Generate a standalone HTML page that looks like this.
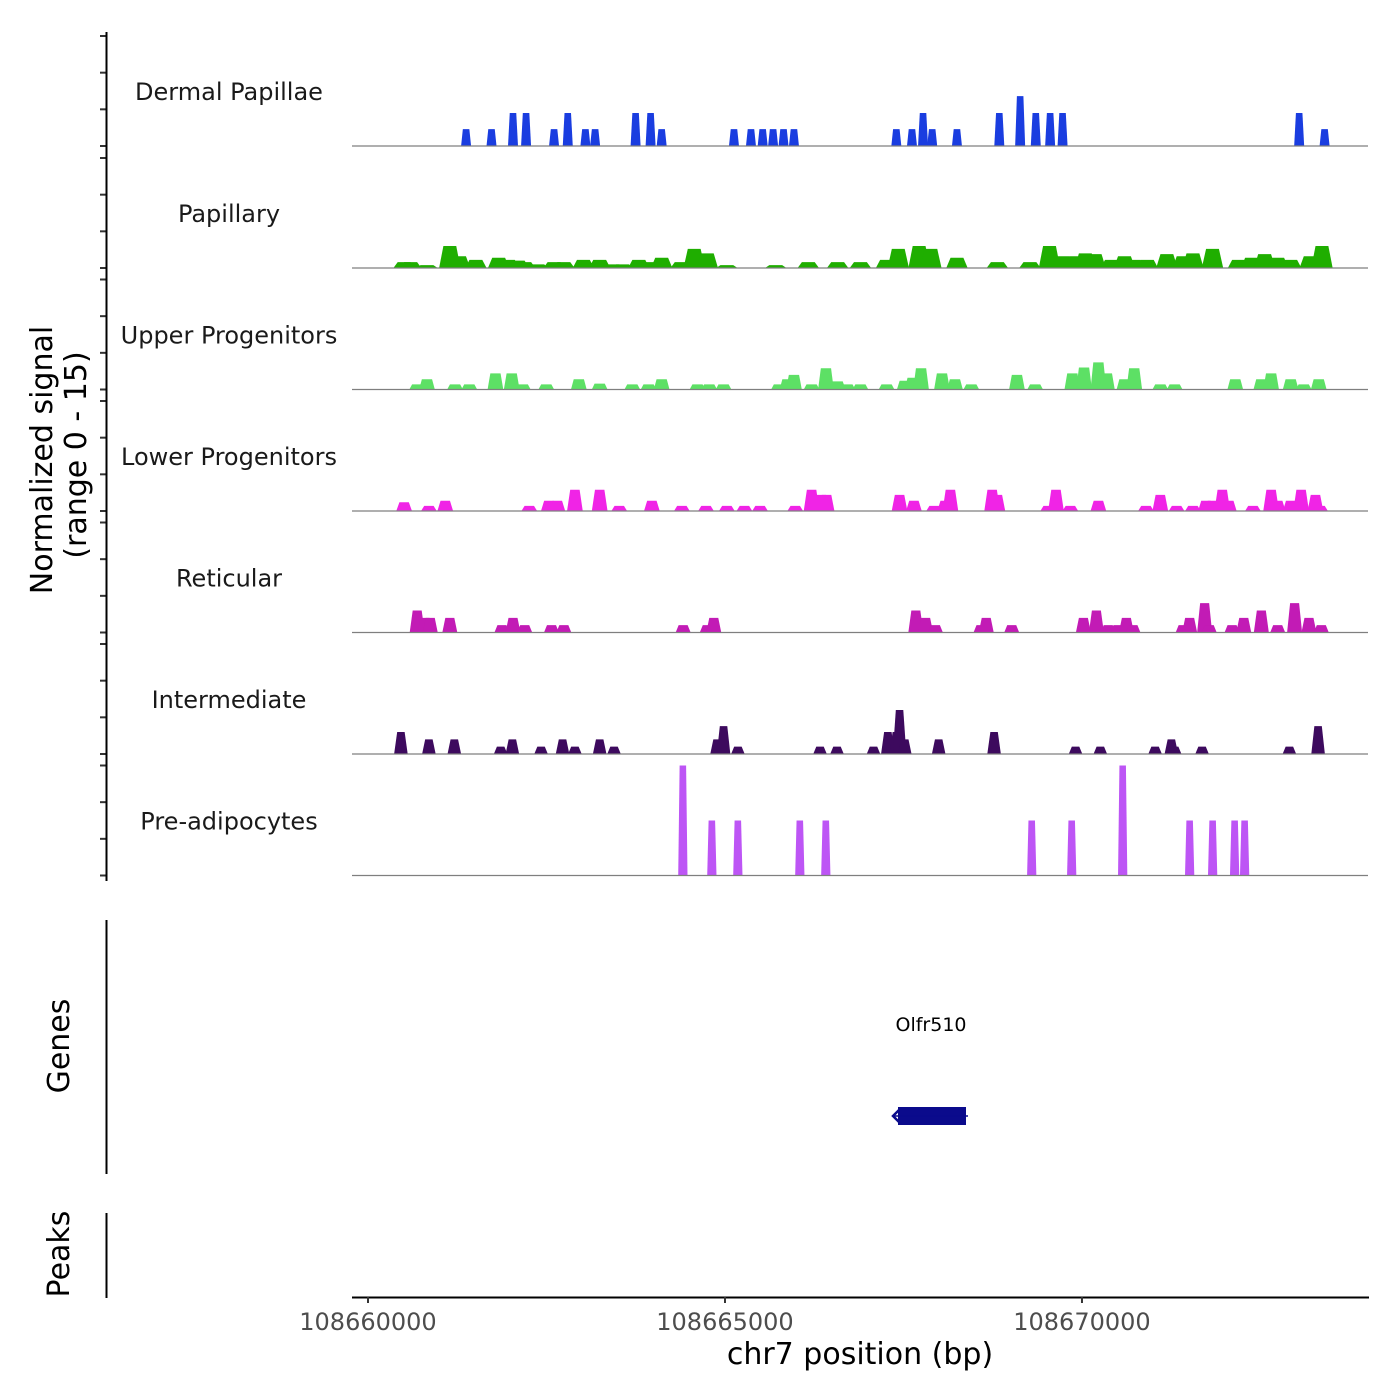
<!DOCTYPE html>
<html><head><meta charset="utf-8"><style>
body{margin:0;background:#fff;}
svg{display:block;font-family:"DejaVu Sans","Liberation Sans",sans-serif;}
</style></head><body>
<svg id="chart" width="1400" height="1400" viewBox="0 0 1400 1400" xmlns="http://www.w3.org/2000/svg">
<g id="tracks"></g>
<g id="axes"></g>
<text transform="translate(52,460) rotate(-90)" text-anchor="middle" font-size="30" fill="#000">Normalized signal</text>
<text transform="translate(86,455) rotate(-90)" text-anchor="middle" font-size="30" fill="#000">(range 0 - 15)</text>
<text transform="translate(69,1046) rotate(-90)" text-anchor="middle" font-size="30" fill="#000">Genes</text>
<text transform="translate(69,1254) rotate(-90)" text-anchor="middle" font-size="30" fill="#000">Peaks</text>
<line x1="106.5" y1="920" x2="106.5" y2="1174" stroke="#000" stroke-width="2"/>
<line x1="106.5" y1="1213" x2="106.5" y2="1298" stroke="#000" stroke-width="2"/>
<text x="931" y="1031" text-anchor="middle" font-size="19" fill="#000">Olfr510</text>
<g>
<rect x="898" y="1107" width="68" height="18" fill="#0b0b8c"/>
<polyline points="899,1110 893,1116 899,1122" fill="none" stroke="#0b0b8c" stroke-width="2.5"/>
<line x1="893" y1="1116" x2="968" y2="1116" stroke="#0b0b8c" stroke-width="1.5"/>
</g>
<text x="860" y="1364" text-anchor="middle" font-size="30" fill="#000">chr7 position (bp)</text>
</svg>
<script>
const trackNames = ["Dermal Papillae","Papillary","Upper Progenitors","Lower Progenitors","Reticular","Intermediate","Pre-adipocytes"];
const trackColors = ["#1a3de0","#1fae00","#5de065","#f024e6","#c21bb5","#3d0a5e","#bd55f5"];
const xTicks = [108660000,108665000,108670000];
const dermalPos = [108661374,108661730,108662031,108662214,108662606,108662798,108663045,108663181,108663748,108663958,108664113,108665126,108665364,108665528,108665674,108665820,108665966,108667400,108667619,108667774,108667902,108668249,108668842,108669134,108669353,108669554,108669728,108673042,108673398];
const dermalVal = [2.3,2.3,4.5,4.5,2.3,4.5,2.3,2.3,4.5,4.5,2.3,2.3,2.3,2.3,2.3,2.3,2.3,2.3,2.3,4.5,2.3,2.3,4.5,6.8,4.5,4.5,4.5,4.5,2.3];
const papPos = [108660506,108660598,108660826,108661146,108661282,108661511,108661830,108661967,108662104,108662195,108662378,108662606,108662743,108663017,108663245,108663428,108663565,108663793,108663976,108664113,108664387,108664569,108664752,108665026,108665711,108666167,108666578,108666897,108667263,108667427,108667719,108667883,108668249,108668815,108669271,108669545,108669728,108669910,108670047,108670184,108670412,108670595,108670732,108670915,108671189,108671417,108671554,108671828,108672193,108672375,108672558,108672741,108672923,108673197,108673361];
const papVal = [0.8,0.8,0.4,3,1.6,1.1,1.4,1.1,1,0.8,0.5,0.8,0.8,1.1,1.1,0.5,0.5,1.1,0.8,1.4,0.8,2.6,2,0.4,0.4,0.8,0.8,0.8,1.1,2.6,3,2.6,1.4,0.8,0.8,3,1.6,1.6,2,1.9,1.1,1.6,1.1,1.1,1.9,1.6,2,2.6,1.1,1.4,1.9,1.4,1.1,1.6,3];
const upperPos = [108660689,108660826,108661219,108661419,108661785,108662013,108662168,108662497,108662953,108663245,108663702,108663930,108664113,108664615,108664779,108664980,108665756,108665875,108665966,108666213,108666414,108666578,108666715,108666897,108667263,108667518,108667628,108667746,108668039,108668221,108668450,108669089,108669344,108669865,108670029,108670230,108670349,108670595,108670732,108671097,108671298,108672147,108672512,108672649,108672923,108673106,108673316];
const upperVal = [0.7,1.4,0.7,0.7,2.2,2.2,0.7,0.7,1.4,0.8,0.7,0.7,1.4,0.7,0.7,0.7,0.7,1.4,2,0.7,2.9,1.1,0.7,0.7,0.7,1.2,1.6,2.9,2.2,1.4,0.7,2,0.7,2.2,3,3.7,2.2,1.4,2.9,0.7,0.7,1.4,1.4,2.2,1.4,0.7,1.4];
const lowerPos = [108660506,108660853,108661082,108662259,108662533,108662652,108662898,108663245,108663519,108663976,108664396,108664734,108665026,108665272,108665491,108665984,108666213,108666350,108666423,108667445,108667646,108667929,108668084,108668157,108668742,108668815,108669527,108669636,108669837,108670230,108670896,108671097,108671325,108671554,108671736,108671828,108671965,108672056,108672394,108672649,108672741,108672923,108673069,108673270,108673334];
const lowerVal = [1.2,0.7,1.4,0.7,1.4,1.4,2.9,2.9,0.7,1.4,0.7,0.7,0.7,0.7,0.7,0.7,2.9,2.2,2.2,2.2,1.4,0.7,1.4,2.9,2.9,2.2,0.7,2.9,0.7,1.4,0.7,2.2,0.7,0.7,1.4,1.4,2.9,1.4,0.7,2.9,1.4,1.4,2.9,2.2,0.7];
const retPos = [108660689,108660799,108660872,108661146,108661876,108662031,108662195,108662570,108662743,108664414,108664752,108664843,108667673,108667810,108667947,108668586,108668659,108669016,108670020,108670202,108670367,108670504,108670622,108670714,108671417,108671508,108671718,108671782,108672102,108672266,108672512,108672741,108672978,108673179,108673352];
const retVal = [3,2,2,2,1,2,1,1,1,1,1,2,3,2,1,1,2,1,2,3,1,1,2,1,1,2,4,1,1,2,3,1,4,2,1];
const intPos = [108660461,108660853,108661209,108661858,108662022,108662424,108662725,108662898,108663245,108663446,108664889,108664980,108665181,108666331,108666569,108667080,108667281,108667400,108667445,108667518,108667993,108668769,108669910,108670257,108671024,108671252,108671298,108671682,108672905,108673307];
const intVal = [3,2,2,1,2,1,2,1,2,1,2,3.8,1,1,1,1,3,3,6,2,2,3,1,1,1,2,1,1,1,3.8];
const preadPos = [108664410,108664816,108665180,108666048,108666412,108669296,108669856,108670570,108671508,108671830,108672138,108672278];
const preadVal = [15,7.5,7.5,7.5,7.5,7.5,7.5,15,7.5,7.5,7.5,7.5];

const trackPos = [dermalPos,papPos,upperPos,lowerPos,retPos,intPos,preadPos];
const trackVal = [dermalVal,papVal,upperVal,lowerVal,retVal,intVal,preadVal];
const halfW = [70,150,110,110,105,95,65];
const topFrac = [0.65,0.6,0.65,0.6,0.6,0.55,0.7];

const NS="http://www.w3.org/2000/svg";
const xMin=108659776, xMax=108674006, px0=352, px1=1368;
function xScale(bp){return px0+(bp-xMin)/(xMax-xMin)*(px1-px0);}
const baselines=[146,268,389.5,511,632.5,754,875.5];
const yMaxPx=110;
function yScale(v,i){return baselines[i]-v/15*yMaxPx;}

const tracks=document.getElementById('tracks');
const axes=document.getElementById('axes');
for(let i=0;i<trackNames.length;i++){
  const g=document.createElementNS(NS,'g');
  
  
  tracks.appendChild(g);
  const lbl=document.createElementNS(NS,'text');
  
  
  lbl.setAttribute('x',229);lbl.setAttribute('y',baselines[i]-46);
  lbl.setAttribute('text-anchor','middle');lbl.setAttribute('font-size','24');lbl.setAttribute('fill','#1a1a1a');
  lbl.textContent=trackNames[i];g.appendChild(lbl);
  const pos=trackPos[i], val=trackVal[i];
  for(let k=0;k<pos.length;k++){
    const hw=halfW[i], tw=hw*topFrac[i];
    const xa=xScale(pos[k]-hw), xb=xScale(pos[k]-tw), xc=xScale(pos[k]+tw), xd=xScale(pos[k]+hw);
    const yb=baselines[i], yt=yScale(val[k],i);
    const p=document.createElementNS(NS,'polygon');
    
    
    p.setAttribute('points',`${xa},${yb} ${xb},${yt} ${xc},${yt} ${xd},${yb}`);
    p.setAttribute('fill',trackColors[i]);
    g.appendChild(p);
  }
  const bl=document.createElementNS(NS,'line');
  
  
  bl.setAttribute('x1',352);bl.setAttribute('x2',1368);bl.setAttribute('y1',baselines[i]);bl.setAttribute('y2',baselines[i]);
  bl.setAttribute('stroke','#7f7f7f');bl.setAttribute('stroke-width','1.2');
  g.appendChild(bl);
  for(let t=0;t<=15;t+=5){
    const y=yScale(t,i);
    const tk=document.createElementNS(NS,'line');
    
    
    tk.setAttribute('x1',100);tk.setAttribute('x2',106);tk.setAttribute('y1',y);tk.setAttribute('y2',y);
    tk.setAttribute('stroke','#333');tk.setAttribute('stroke-width','2');
    axes.appendChild(tk);
  }
}
const yl=document.createElementNS(NS,'line');


yl.setAttribute('x1',106.5);yl.setAttribute('x2',106.5);yl.setAttribute('y1',32);yl.setAttribute('y2',881);
yl.setAttribute('stroke','#000');yl.setAttribute('stroke-width','2');
axes.appendChild(yl);
const xl=document.createElementNS(NS,'line');


xl.setAttribute('x1',352);xl.setAttribute('x2',1369);xl.setAttribute('y1',1297.5);xl.setAttribute('y2',1297.5);
xl.setAttribute('stroke','#000');xl.setAttribute('stroke-width','2');
axes.appendChild(xl);
for(const t of xTicks){
  const x=xScale(t);
  const tk=document.createElementNS(NS,'line');
  
  
  tk.setAttribute('x1',x);tk.setAttribute('x2',x);tk.setAttribute('y1',1297);tk.setAttribute('y2',1303);
  tk.setAttribute('stroke','#333');tk.setAttribute('stroke-width','2');
  axes.appendChild(tk);
  const tl=document.createElementNS(NS,'text');
  
  
  tl.setAttribute('x',x);tl.setAttribute('y',1330);tl.setAttribute('text-anchor','middle');
  tl.setAttribute('font-size','24');tl.setAttribute('fill','#4d4d4d');
  tl.textContent=String(t);
  axes.appendChild(tl);
}
</script>
</body></html>
